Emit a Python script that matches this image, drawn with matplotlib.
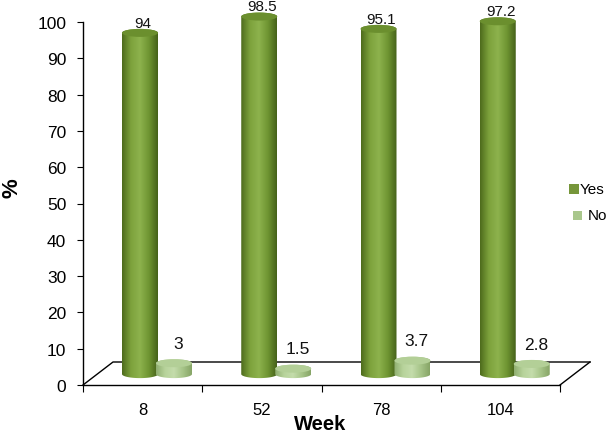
import numpy as np
import matplotlib
matplotlib.use("Agg")
import matplotlib.pyplot as plt
from matplotlib.patches import Ellipse, PathPatch, Rectangle
from matplotlib.path import Path
from matplotlib.colors import LinearSegmentedColormap

plt.rcParams['font.family'] = ['Liberation Sans', 'DejaVu Sans']

weeks = ["8", "52", "78", "104"]
yes_vals = [94, 98.5, 95.1, 97.2]
no_vals = [3, 1.5, 3.7, 2.8]
yticks = list(range(0, 101, 10))

W, H = 610, 435
fig = plt.figure(figsize=(W / 100, H / 100), dpi=100)
ax = fig.add_axes([83 / W, (H - 386) / H, (560 - 83) / W, (386 - 23) / H])
ax.set_xlim(0, 4)
ax.set_ylim(0, 100)

px_x = 4 / (560 - 83)      # data units per px in x
px_y = 100 / (386 - 23)    # data units per px in y

base = 3.0
cw = 36 * px_x
eh = 8 * px_y

yes_cmap = LinearSegmentedColormap.from_list(
    "yes", ["#4d6b1c", "#7da23c", "#8db24d", "#6f9532", "#45611a"])
no_cmap = LinearSegmentedColormap.from_list(
    "no", ["#8fae70", "#b7d39b", "#c4dcab", "#a6c488", "#86a466"])
grad = np.linspace(0, 1, 256).reshape(1, -1)


def cylinder(cx, val, cmap, capcol, z):
    top = base + val
    left, right = cx - cw / 2, cx + cw / 2
    th = np.linspace(np.pi, 2 * np.pi, 40)
    bx = cx + cw / 2 * np.cos(th)
    by = base + eh / 2 * np.sin(th)
    th2 = np.linspace(0, np.pi, 40)
    tx = cx + cw / 2 * np.cos(th2)
    ty = top + eh / 2 * np.sin(th2)
    verts = np.vstack([[[left, top]], np.column_stack([bx, by]),
                       [[right, top]], np.column_stack([tx, ty])])
    path = Path(verts, closed=False)
    patch = PathPatch(path, transform=ax.transData, facecolor='none', edgecolor='none')
    im = ax.imshow(grad, cmap=cmap, aspect='auto', origin='lower',
                   extent=(left, right, base - eh, top + eh), zorder=z)
    im.set_clip_box(fig.bbox)
    im.set_clip_path(patch)
    cap = Ellipse((cx, top), cw, eh, facecolor=capcol, edgecolor='none',
                  zorder=z + 0.1, clip_on=False)
    ax.add_patch(cap)


# floor back lines (behind bars)
dx = 30 * px_x
dy = 23 * px_y
ax.plot([0, dx, 4 + dx], [0, dy, dy], color='black', lw=1.0, zorder=1, clip_on=False)
ax.plot([4 + dx, 4], [dy, 0], color='black', lw=1.0, zorder=10, clip_on=False)

for i in range(len(weeks)):
    cy = i + 0.478
    cn = i + 0.763
    cylinder(cy, yes_vals[i], yes_cmap, "#6b8f2e", 3)
    cylinder(cn, no_vals[i], no_cmap, "#b3cf97", 4)
    ax.annotate(f"{yes_vals[i]:g}", (cy, base + yes_vals[i]), xytext=(2, 4.5),
                textcoords='offset points', ha='center', va='baseline', fontsize=11,
                color='#111111', annotation_clip=False)
    ax.annotate(f"{no_vals[i]:g}", (cn, base + no_vals[i]), xytext=(3, 11),
                textcoords='offset points', ha='center', va='baseline', fontsize=12.5,
                color='#111111', annotation_clip=False)

ax.set_xlim(0, 4)
ax.set_ylim(0, 100)

for s in ['top', 'right']:
    ax.spines[s].set_visible(False)
for s in ['left', 'bottom']:
    ax.spines[s].set_color('black')
    ax.spines[s].set_linewidth(1.0)
    ax.spines[s].set_zorder(10)

ax.set_yticks(yticks)
ax.set_yticklabels([str(t) for t in yticks], fontsize=12.5)
ax.tick_params(axis='y', direction='out', length=4, pad=8, color='black')

ax.set_xticks([0, 1, 2, 3, 4])
ax.set_xticklabels([])
ax.tick_params(axis='x', which='major', direction='out', length=5, color='black')
ax.set_xticks([0.5, 1.5, 2.5, 3.5], minor=True)
ax.set_xticklabels(weeks, minor=True, fontsize=12)
ax.tick_params(axis='x', which='minor', length=0, pad=12)

fig.text(320 / W, 1 - 425 / H, "Week", ha='center', va='center', fontsize=14.5, fontweight='bold')
fig.text(12 / W, 1 - 188 / H, "%", ha='center', va='center', fontsize=16, fontweight='bold', rotation=90)

# legend
fig.patches.append(Rectangle((569 / W, 1 - 195 / H), 10 / W, 10 / H, transform=fig.transFigure,
                             facecolor="#76963a", edgecolor='none', figure=fig))
fig.text(580 / W, 1 - 190 / H, "Yes", ha='left', va='center', fontsize=11)
fig.patches.append(Rectangle((573 / W, 1 - 221 / H), 9 / W, 9 / H, transform=fig.transFigure,
                             facecolor="#a9c78c", edgecolor='none', figure=fig))
fig.text(588 / W, 1 - 216 / H, "No", ha='left', va='center', fontsize=11)

fig.savefig("out.png", dpi=100)
